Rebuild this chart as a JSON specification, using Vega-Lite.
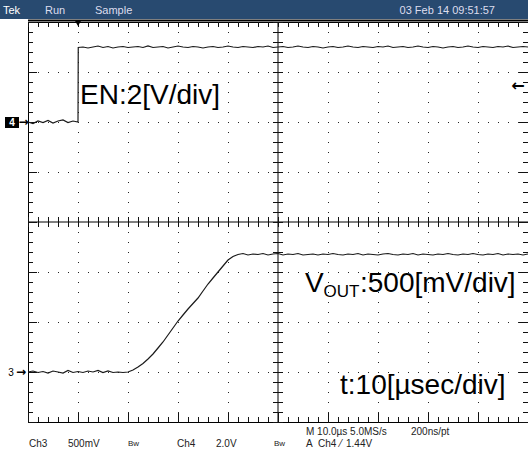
{
 "$schema": "https://vega.github.io/schema/vega-lite/v6.json",
 "width": 500, "height": 400,
 "autosize": {"type": "none"},
 "padding": {"left": 28, "top": 22, "right": 0, "bottom": 32},
 "background": "white",
 "config": {"view": {"stroke": "#000", "strokeWidth": 1}, "text": {"font": "Liberation Sans"}},
 "datasets": {
  "xt": [{"t":0},{"t":2},{"t":4},{"t":6},{"t":8},{"t":10},{"t":12},{"t":14},{"t":16},{"t":18},{"t":20},{"t":22},{"t":24},{"t":26},{"t":28},{"t":30},{"t":32},{"t":34},{"t":36},{"t":38},{"t":40},{"t":42},{"t":44},{"t":46},{"t":48},{"t":50},{"t":52},{"t":54},{"t":56},{"t":58},{"t":60},{"t":62},{"t":64},{"t":66},{"t":68},{"t":70},{"t":72},{"t":74},{"t":76},{"t":78},{"t":80},{"t":82},{"t":84},{"t":86},{"t":88},{"t":90},{"t":92},{"t":94},{"t":96},{"t":98},{"t":100}],
  "yt": [{"v":0},{"v":0.2},{"v":0.4},{"v":0.6},{"v":0.8},{"v":1},{"v":1.2},{"v":1.4},{"v":1.6},{"v":1.8},{"v":2},{"v":2.2},{"v":2.4},{"v":2.6},{"v":2.8},{"v":3},{"v":3.2},{"v":3.4},{"v":3.6},{"v":3.8},{"v":4},{"v":4.2},{"v":4.4},{"v":4.6},{"v":4.8},{"v":5},{"v":5.2},{"v":5.4},{"v":5.6},{"v":5.8},{"v":6},{"v":6.2},{"v":6.4},{"v":6.6},{"v":6.8},{"v":7},{"v":7.2},{"v":7.4},{"v":7.6},{"v":7.8},{"v":8}]
 },
 "data": {"values": [{}]},
 "layer": [
  {"mark": {"type": "rule", "color": "#000", "strokeWidth": 1}, "encoding": {"x": {"datum": 0, "scale": {"domain": [0, 100], "nice": false, "zero": false}}, "x2": {"datum": 100}, "y": {"datum": 4, "scale": {"domain": [0, 8], "nice": false, "zero": false}}}},
  {"mark": {"type": "rule", "color": "#000", "strokeWidth": 1}, "encoding": {"x": {"datum": 50}, "y": {"datum": 8}, "y2": {"datum": 0}}},
  {"data": {"name": "xt"}, "mark": {"type": "tick", "orient": "vertical", "size": 10, "thickness": 1, "color": "#111", "opacity": 1, "xOffset": 0.5}, "encoding": {"x": {"field": "t", "type": "quantitative"}, "y": {"datum": 4}}},
  {"data": {"name": "yt"}, "mark": {"type": "tick", "orient": "horizontal", "size": 10, "thickness": 1, "color": "#111", "opacity": 1, "yOffset": 0.5}, "encoding": {"y": {"field": "v", "type": "quantitative"}, "x": {"datum": 50}}},
  {"data": {"name": "xt"}, "mark": {"type": "tick", "orient": "vertical", "size": 5, "thickness": 1, "color": "#111", "opacity": 1, "xOffset": 0.5}, "encoding": {"x": {"field": "t", "type": "quantitative"}, "y": {"datum": 0.05}}},
  {"data": {"name": "xt"}, "transform": [{"filter": "datum.t % 10 == 0"}], "mark": {"type": "tick", "orient": "vertical", "size": 9, "thickness": 1, "color": "#111", "opacity": 1, "xOffset": 0.5}, "encoding": {"x": {"field": "t", "type": "quantitative"}, "y": {"datum": 0.09}}},
  {"data": {"name": "xt"}, "mark": {"type": "tick", "orient": "vertical", "size": 5, "thickness": 1, "color": "#111", "opacity": 1, "xOffset": 0.5}, "encoding": {"x": {"field": "t", "type": "quantitative"}, "y": {"datum": 7.95}}},
  {"data": {"name": "yt"}, "mark": {"type": "tick", "orient": "horizontal", "size": 5, "thickness": 1, "color": "#111", "opacity": 1, "yOffset": 0.5}, "encoding": {"y": {"field": "v", "type": "quantitative"}, "x": {"datum": 0.5}}},
  {"data": {"name": "yt"}, "transform": [{"filter": "datum.v % 1 == 0"}], "mark": {"type": "tick", "orient": "horizontal", "size": 9, "thickness": 1, "color": "#111", "opacity": 1, "yOffset": 0.5}, "encoding": {"y": {"field": "v", "type": "quantitative"}, "x": {"datum": 0.9}}},
  {"data": {"name": "yt"}, "mark": {"type": "tick", "orient": "horizontal", "size": 5, "thickness": 1, "color": "#111", "opacity": 1, "yOffset": 0.5}, "encoding": {"y": {"field": "v", "type": "quantitative"}, "x": {"datum": 99.5}}},
  {"data": {"name": "yt"}, "transform": [{"filter": "datum.v % 1 == 0"}], "mark": {"type": "tick", "orient": "horizontal", "size": 9, "thickness": 1, "color": "#111", "opacity": 1, "yOffset": 0.5}, "encoding": {"y": {"field": "v", "type": "quantitative"}, "x": {"datum": 99.1}}},
  {"mark": {"type": "rect", "color": "#284a70"}, "encoding": {"x": {"datum": -6}, "x2": {"datum": 100}, "y": {"datum": 8.06}, "y2": {"datum": 8.5}}},
  {"mark": {"type": "rule", "color": "#000", "strokeWidth": 2}, "encoding": {"x": {"datum": 0}, "x2": {"datum": 100}, "y": {"datum": 8.03}}},
  {
   "data": {"values": [
    {"c":"EN","t":0,"v":6.0},{"c":"EN","t":1,"v":5.97},{"c":"EN","t":2,"v":6.02},{"c":"EN","t":3,"v":5.99},{"c":"EN","t":4,"v":6.03},{"c":"EN","t":5,"v":5.98},{"c":"EN","t":6,"v":6.02},{"c":"EN","t":7,"v":6.04},{"c":"EN","t":8,"v":5.99},{"c":"EN","t":9,"v":6.02},{"c":"EN","t":10,"v":6.0},
    {"c":"EN","t":10.05,"v":7.49},{"c":"EN","t":11,"v":7.5},{"c":"EN","t":12,"v":7.48},{"c":"EN","t":13,"v":7.5},{"c":"EN","t":14,"v":7.52},{"c":"EN","t":15,"v":7.49},{"c":"EN","t":16,"v":7.51},{"c":"EN","t":17,"v":7.48},{"c":"EN","t":18,"v":7.5},{"c":"EN","t":19,"v":7.51},{"c":"EN","t":20,"v":7.49},
    {"c":"EN","t":21,"v":7.5},{"c":"EN","t":22,"v":7.51},{"c":"EN","t":23,"v":7.49},{"c":"EN","t":24,"v":7.52},{"c":"EN","t":25,"v":7.49},{"c":"EN","t":26,"v":7.5},{"c":"EN","t":27,"v":7.51},{"c":"EN","t":28,"v":7.48},{"c":"EN","t":29,"v":7.5},{"c":"EN","t":30,"v":7.52},
    {"c":"EN","t":31,"v":7.5},{"c":"EN","t":32,"v":7.49},{"c":"EN","t":33,"v":7.51},{"c":"EN","t":34,"v":7.5},{"c":"EN","t":35,"v":7.48},{"c":"EN","t":36,"v":7.5},{"c":"EN","t":37,"v":7.51},{"c":"EN","t":38,"v":7.49},{"c":"EN","t":39,"v":7.5},{"c":"EN","t":40,"v":7.52},
    {"c":"EN","t":41,"v":7.5},{"c":"EN","t":42,"v":7.49},{"c":"EN","t":43,"v":7.51},{"c":"EN","t":44,"v":7.5},{"c":"EN","t":45,"v":7.49},{"c":"EN","t":46,"v":7.51},{"c":"EN","t":47,"v":7.5},{"c":"EN","t":48,"v":7.52},{"c":"EN","t":49,"v":7.49},{"c":"EN","t":50,"v":7.5},
    {"c":"EN","t":51,"v":7.51},{"c":"EN","t":52,"v":7.49},{"c":"EN","t":53,"v":7.5},{"c":"EN","t":54,"v":7.52},{"c":"EN","t":55,"v":7.5},{"c":"EN","t":56,"v":7.49},{"c":"EN","t":57,"v":7.51},{"c":"EN","t":58,"v":7.5},{"c":"EN","t":59,"v":7.48},{"c":"EN","t":60,"v":7.5},
    {"c":"EN","t":61,"v":7.51},{"c":"EN","t":62,"v":7.49},{"c":"EN","t":63,"v":7.5},{"c":"EN","t":64,"v":7.52},{"c":"EN","t":65,"v":7.5},{"c":"EN","t":66,"v":7.49},{"c":"EN","t":67,"v":7.51},{"c":"EN","t":68,"v":7.5},{"c":"EN","t":69,"v":7.49},{"c":"EN","t":70,"v":7.51},
    {"c":"EN","t":71,"v":7.5},{"c":"EN","t":72,"v":7.52},{"c":"EN","t":73,"v":7.49},{"c":"EN","t":74,"v":7.5},{"c":"EN","t":75,"v":7.51},{"c":"EN","t":76,"v":7.49},{"c":"EN","t":77,"v":7.5},{"c":"EN","t":78,"v":7.52},{"c":"EN","t":79,"v":7.5},{"c":"EN","t":80,"v":7.49},
    {"c":"EN","t":81,"v":7.51},{"c":"EN","t":82,"v":7.5},{"c":"EN","t":83,"v":7.48},{"c":"EN","t":84,"v":7.5},{"c":"EN","t":85,"v":7.51},{"c":"EN","t":86,"v":7.49},{"c":"EN","t":87,"v":7.5},{"c":"EN","t":88,"v":7.52},{"c":"EN","t":89,"v":7.5},{"c":"EN","t":90,"v":7.49},
    {"c":"EN","t":91,"v":7.51},{"c":"EN","t":92,"v":7.5},{"c":"EN","t":93,"v":7.49},{"c":"EN","t":94,"v":7.51},{"c":"EN","t":95,"v":7.5},{"c":"EN","t":96,"v":7.52},{"c":"EN","t":97,"v":7.49},{"c":"EN","t":98,"v":7.5},{"c":"EN","t":99,"v":7.51},{"c":"EN","t":100,"v":7.5},
    {"c":"VO","t":0,"v":1.0},{"c":"VO","t":1,"v":1.02},{"c":"VO","t":2,"v":0.99},{"c":"VO","t":3,"v":1.01},{"c":"VO","t":4,"v":0.98},{"c":"VO","t":5,"v":1.02},{"c":"VO","t":6,"v":1.0},{"c":"VO","t":7,"v":0.98},{"c":"VO","t":8,"v":1.03},{"c":"VO","t":9,"v":0.99},{"c":"VO","t":10,"v":1.01},
    {"c":"VO","t":11,"v":0.99},{"c":"VO","t":12,"v":1.02},{"c":"VO","t":13,"v":1.0},{"c":"VO","t":14,"v":1.03},{"c":"VO","t":15,"v":0.99},{"c":"VO","t":16,"v":1.02},{"c":"VO","t":17,"v":0.99},{"c":"VO","t":18,"v":1.0},{"c":"VO","t":19,"v":0.99},{"c":"VO","t":20,"v":1.0},
    {"c":"VO","t":21,"v":1.04},{"c":"VO","t":22,"v":1.1},{"c":"VO","t":23,"v":1.17},{"c":"VO","t":24,"v":1.26},{"c":"VO","t":25,"v":1.36},{"c":"VO","t":26,"v":1.48},{"c":"VO","t":27,"v":1.6},{"c":"VO","t":28,"v":1.74},{"c":"VO","t":29,"v":1.88},{"c":"VO","t":30,"v":2.02},
    {"c":"VO","t":31,"v":2.14},{"c":"VO","t":32,"v":2.26},{"c":"VO","t":33,"v":2.37},{"c":"VO","t":34,"v":2.48},{"c":"VO","t":35,"v":2.62},{"c":"VO","t":36,"v":2.76},{"c":"VO","t":37,"v":2.88},{"c":"VO","t":38,"v":3.0},{"c":"VO","t":39,"v":3.12},{"c":"VO","t":40,"v":3.24},
    {"c":"VO","t":41,"v":3.31},{"c":"VO","t":42,"v":3.35},{"c":"VO","t":43,"v":3.37},{"c":"VO","t":44,"v":3.34},{"c":"VO","t":45,"v":3.36},{"c":"VO","t":46,"v":3.35},{"c":"VO","t":47,"v":3.37},{"c":"VO","t":48,"v":3.34},{"c":"VO","t":49,"v":3.36},{"c":"VO","t":50,"v":3.37},
    {"c":"VO","t":51,"v":3.34},{"c":"VO","t":52,"v":3.36},{"c":"VO","t":53,"v":3.35},{"c":"VO","t":54,"v":3.37},{"c":"VO","t":55,"v":3.34},{"c":"VO","t":56,"v":3.35},{"c":"VO","t":57,"v":3.36},{"c":"VO","t":58,"v":3.34},{"c":"VO","t":59,"v":3.36},{"c":"VO","t":60,"v":3.35},
    {"c":"VO","t":61,"v":3.37},{"c":"VO","t":62,"v":3.35},{"c":"VO","t":63,"v":3.34},{"c":"VO","t":64,"v":3.36},{"c":"VO","t":65,"v":3.35},{"c":"VO","t":66,"v":3.37},{"c":"VO","t":67,"v":3.34},{"c":"VO","t":68,"v":3.36},{"c":"VO","t":69,"v":3.35},{"c":"VO","t":70,"v":3.34},
    {"c":"VO","t":71,"v":3.36},{"c":"VO","t":72,"v":3.37},{"c":"VO","t":73,"v":3.35},{"c":"VO","t":74,"v":3.34},{"c":"VO","t":75,"v":3.36},{"c":"VO","t":76,"v":3.35},{"c":"VO","t":77,"v":3.37},{"c":"VO","t":78,"v":3.34},{"c":"VO","t":79,"v":3.36},{"c":"VO","t":80,"v":3.35},
    {"c":"VO","t":81,"v":3.34},{"c":"VO","t":82,"v":3.36},{"c":"VO","t":83,"v":3.35},{"c":"VO","t":84,"v":3.37},{"c":"VO","t":85,"v":3.35},{"c":"VO","t":86,"v":3.34},{"c":"VO","t":87,"v":3.36},{"c":"VO","t":88,"v":3.35},{"c":"VO","t":89,"v":3.37},{"c":"VO","t":90,"v":3.35},
    {"c":"VO","t":91,"v":3.34},{"c":"VO","t":92,"v":3.36},{"c":"VO","t":93,"v":3.35},{"c":"VO","t":94,"v":3.37},{"c":"VO","t":95,"v":3.34},{"c":"VO","t":96,"v":3.36},{"c":"VO","t":97,"v":3.35},{"c":"VO","t":98,"v":3.36},{"c":"VO","t":99,"v":3.34},{"c":"VO","t":100,"v":3.36}
   ]},
   "mark": {"type": "line", "color": "#1a1a1a", "strokeWidth": 1.2},
   "encoding": {
    "x": {"field": "t", "type": "quantitative", "scale": {"domain": [0, 100], "nice": false, "zero": false},
          "axis": {"orient": "bottom", "grid": true, "gridDash": [1, 9], "gridDashOffset": 0.5, "gridColor": "#222", "gridOpacity": 1, "values": [10, 20, 30, 40, 60, 70, 80, 90], "domain": false, "ticks": false, "labels": false, "title": null}},
    "y": {"field": "v", "type": "quantitative", "scale": {"domain": [0, 8], "nice": false, "zero": false},
          "axis": {"orient": "left", "grid": true, "gridDash": [1, 9], "gridDashOffset": 0.5, "gridColor": "#222", "gridOpacity": 1, "values": [1, 2, 3, 5, 6, 7], "domain": false, "ticks": false, "labels": false, "title": null}},
    "detail": {"field": "c"}
   }
  },
  {"mark": {"type": "point", "shape": "triangle-down", "filled": true, "color": "#000", "size": 50, "opacity": 1}, "encoding": {"x": {"datum": 10}, "y": {"datum": 7.98}}},
  {"mark": {"type": "text", "text": "←", "font": "DejaVu Sans", "fontSize": 16, "fontWeight": "bold", "align": "center", "baseline": "middle", "color": "#000"}, "encoding": {"x": {"datum": 98}, "y": {"datum": 6.72}}},
  {"mark": {"type": "rect", "color": "#000"}, "encoding": {"x": {"datum": -4.6}, "x2": {"datum": -1.8}, "y": {"datum": 5.88}, "y2": {"datum": 6.1}}},
  {"mark": {"type": "text", "text": "4", "fontSize": 10, "fontWeight": "bold", "align": "center", "baseline": "middle", "color": "#fff"}, "encoding": {"x": {"datum": -3.2}, "y": {"datum": 5.99}}},
  {"mark": {"type": "text", "text": "→", "font": "DejaVu Sans", "fontSize": 12, "fontWeight": "bold", "align": "center", "baseline": "middle", "color": "#000"}, "encoding": {"x": {"datum": -0.9}, "y": {"datum": 6.0}}},
  {"mark": {"type": "text", "text": "3", "fontSize": 10, "align": "center", "baseline": "middle", "color": "#000"}, "encoding": {"x": {"datum": -3.4}, "y": {"datum": 0.99}}},
  {"mark": {"type": "text", "text": "→", "font": "DejaVu Sans", "fontSize": 12, "fontWeight": "bold", "align": "center", "baseline": "middle", "color": "#000"}, "encoding": {"x": {"datum": -1.4}, "y": {"datum": 1.0}}},
  {"mark": {"type": "text", "text": "Tek", "fontSize": 11, "align": "left", "baseline": "alphabetic", "color": "#fff"}, "encoding": {"x": {"datum": -5}, "y": {"datum": 8.16}}},
  {"mark": {"type": "text", "text": "Run", "fontSize": 11, "align": "left", "baseline": "alphabetic", "color": "#dde"}, "encoding": {"x": {"datum": 3.4}, "y": {"datum": 8.16}}},
  {"mark": {"type": "text", "text": "Sample", "fontSize": 11, "align": "left", "baseline": "alphabetic", "color": "#dde"}, "encoding": {"x": {"datum": 13.4}, "y": {"datum": 8.16}}},
  {"mark": {"type": "text", "text": "03 Feb 14 09:51:57", "fontSize": 11, "align": "right", "baseline": "alphabetic", "color": "#dde"}, "encoding": {"x": {"datum": 93.4}, "y": {"datum": 8.16}}},
  {"mark": {"type": "text", "text": "EN:2[V/div]", "fontSize": 28, "align": "left", "baseline": "alphabetic", "color": "#000"}, "encoding": {"x": {"datum": 10.4}, "y": {"datum": 6.36}}},
  {"mark": {"type": "text", "text": "V", "fontSize": 28, "align": "left", "baseline": "alphabetic", "color": "#000"}, "encoding": {"x": {"datum": 55.4}, "y": {"datum": 2.6}}},
  {"mark": {"type": "text", "text": "OUT", "fontSize": 17, "align": "left", "baseline": "alphabetic", "color": "#000"}, "encoding": {"x": {"datum": 59.1}, "y": {"datum": 2.5}}},
  {"mark": {"type": "text", "text": ":500[mV/div]", "fontSize": 28, "align": "left", "baseline": "alphabetic", "color": "#000"}, "encoding": {"x": {"datum": 66.4}, "y": {"datum": 2.6}}},
  {"mark": {"type": "text", "text": "t:10[µsec/div]", "fontSize": 28, "align": "left", "baseline": "alphabetic", "color": "#000"}, "encoding": {"x": {"datum": 62.4}, "y": {"datum": 0.56}}},
  {"mark": {"type": "text", "text": "M 10.0µs 5.0MS/s", "fontSize": 10, "align": "left", "baseline": "alphabetic", "color": "#222"}, "encoding": {"x": {"datum": 55.6}, "y": {"datum": -0.26}}},
  {"mark": {"type": "text", "text": "200ns/pt", "fontSize": 10, "align": "left", "baseline": "alphabetic", "color": "#222"}, "encoding": {"x": {"datum": 76.6}, "y": {"datum": -0.26}}},
  {"mark": {"type": "text", "text": "Ch3", "fontSize": 10, "align": "left", "baseline": "alphabetic", "color": "#222"}, "encoding": {"x": {"datum": 0.2}, "y": {"datum": -0.5}}},
  {"mark": {"type": "text", "text": "500mV", "fontSize": 10, "align": "left", "baseline": "alphabetic", "color": "#222"}, "encoding": {"x": {"datum": 8}, "y": {"datum": -0.5}}},
  {"mark": {"type": "text", "text": "Bw", "fontSize": 8, "align": "left", "baseline": "alphabetic", "color": "#222"}, "encoding": {"x": {"datum": 20}, "y": {"datum": -0.48}}},
  {"mark": {"type": "text", "text": "Ch4", "fontSize": 10, "align": "left", "baseline": "alphabetic", "color": "#222"}, "encoding": {"x": {"datum": 29.8}, "y": {"datum": -0.5}}},
  {"mark": {"type": "text", "text": "2.0V", "fontSize": 10, "align": "left", "baseline": "alphabetic", "color": "#222"}, "encoding": {"x": {"datum": 37.6}, "y": {"datum": -0.5}}},
  {"mark": {"type": "text", "text": "Bw", "fontSize": 8, "align": "left", "baseline": "alphabetic", "color": "#222"}, "encoding": {"x": {"datum": 49.2}, "y": {"datum": -0.48}}},
  {"mark": {"type": "text", "text": "A", "fontSize": 10, "align": "left", "baseline": "alphabetic", "color": "#222"}, "encoding": {"x": {"datum": 55.6}, "y": {"datum": -0.5}}},
  {"mark": {"type": "text", "text": "Ch4", "fontSize": 10, "align": "left", "baseline": "alphabetic", "color": "#222"}, "encoding": {"x": {"datum": 58}, "y": {"datum": -0.5}}},
  {"mark": {"type": "text", "text": "⁄", "fontSize": 10, "align": "left", "baseline": "alphabetic", "color": "#222"}, "encoding": {"x": {"datum": 62.4}, "y": {"datum": -0.5}}},
  {"mark": {"type": "text", "text": "1.44V", "fontSize": 10, "align": "left", "baseline": "alphabetic", "color": "#222"}, "encoding": {"x": {"datum": 63.6}, "y": {"datum": -0.5}}}
 ]
}
